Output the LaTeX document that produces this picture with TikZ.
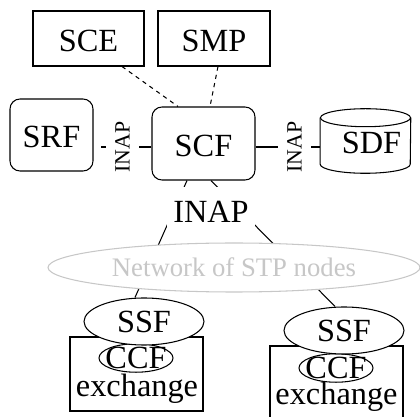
\documentclass[tikz,border=0pt]{standalone}
\usepackage{fontspec}
\setmainfont{Liberation Serif}
\usetikzlibrary{shapes.geometric}
\usetikzlibrary{positioning}

\tikzset{
  fn/.style={draw, line width=0.75pt, font=\fontsize{23}{27}\selectfont, inner sep=0pt},
  fnbox/.style={fn, rectangle, text height=0.64cm, text depth=0pt},
  fnround/.style={fnbox, rounded corners=0.25cm},
  fnoval/.style={fn, ellipse, fill=white},
  lbl/.style={font=\fontsize{23}{27}\selectfont, inner sep=0pt},
  sidelbl/.style={font=\fontsize{15.5}{18}\selectfont, rotate=90, fill=white, inner xsep=1pt, inner ysep=0.24cm},
  link/.style={line width=0.75pt},
  stp/.style={draw=black!22, text=black!22, ellipse, fill=white, line width=0.75pt, inner sep=0pt, font=\fontsize{19}{23}\selectfont},
}

\begin{document}
\begin{tikzpicture}
\useasboundingbox (0,0) rectangle (10.5,-10.425);
% top row
\node[fnbox,minimum width=2.775cm,minimum height=1.375cm] (SCE) at (2.2125,-0.9625) {SCE};
\node[fnbox,minimum width=2.8cm,minimum height=1.375cm] (SMP) at (5.35,-0.9625) {SMP};
% middle row
\node[fnround,minimum width=2.075cm,minimum height=1.8cm] (SRF) at (1.2875,-3.375) {SRF};
\node[fnround,minimum width=2.575cm,minimum height=1.825cm] (SCF) at (5.0875,-3.5875) {SCF};
\node[lbl,minimum width=2.25cm,minimum height=1.6cm,text height=0.64cm] (SDF) at (9.1375,-3.525) {\hspace{0.3cm}SDF};
\draw[link] ([yshift=-0.225cm]SDF.north) ellipse [x radius=1.125cm, y radius=0.225cm];
\draw[link] ([yshift=-0.225cm]SDF.north west) -- ([yshift=0.225cm]SDF.south west)
  arc[start angle=180, end angle=360, x radius=1.125cm, y radius=0.225cm] -- ([yshift=-0.225cm]SDF.north east);

% exchanges
\node[fnbox,minimum width=3.325cm,minimum height=1.85cm] (EX1) at (3.4125,-9.35) {};
\node[fnbox,minimum width=3.325cm,minimum height=1.85cm] (EX2) at (8.4125,-9.575) {};
\node[lbl,anchor=base] (ex1) at (3.425,-9.925) {exchange};
\node[lbl,anchor=base] (ex2) at (8.4125,-10.125) {exchange};
\node[fnoval,inner xsep=-0.11cm,inner ysep=-0.02cm,minimum width=1.85cm,minimum height=0.7cm] (CCF1) at (3.4,-8.95) {CCF};
\node[fnoval,inner xsep=-0.11cm,inner ysep=-0.02cm,minimum width=1.85cm,minimum height=0.7cm] (CCF2) at (8.4,-9.2) {CCF};
\node[fnoval,minimum width=3cm,minimum height=1.175cm] (SSF1) at (3.6,-8.0375) {SSF};
\node[fnoval,minimum width=3cm,minimum height=1.175cm] (SSF2) at (8.6,-8.2625) {SSF};

% links
\draw[link,dashed] ([xshift=0.8375cm]SCE.south) -- ([xshift=-0.6375cm]SCF.north);
\draw[link,dashed] ([xshift=0.1cm]SMP.south) -- ([xshift=0.1625cm]SCF.north);
\coordinate (ll) at ([yshift=-0.0875cm]SCF.west);
\coordinate (lr) at ([yshift=-0.0875cm]SCF.east);
\draw[link,shorten >=0.175cm] (ll) -- (ll -| SRF.east) node[sidelbl,midway] (inapL) {INAP};
\draw[link] (lr) -- (lr -| SDF.west) node[sidelbl,pos=0.6] (inapR) {INAP};
\draw[link] ([xshift=-0.4125cm]SCF.south) -- ([xshift=-0.225cm]SSF1.north);
\draw[link] ([xshift=0.1875cm]SCF.south) -- ([xshift=-0.225cm]SSF2.north);

\node[stp,minimum width=9.3cm,minimum height=1.225cm] (STP) at (5.85,-6.6875) {Network of STP nodes};
\node[lbl,fill=white,minimum width=2.2cm,minimum height=1.15cm,text height=0.64cm] (INAP) at (5.275,-5.25) {INAP};
\end{tikzpicture}
\end{document}
